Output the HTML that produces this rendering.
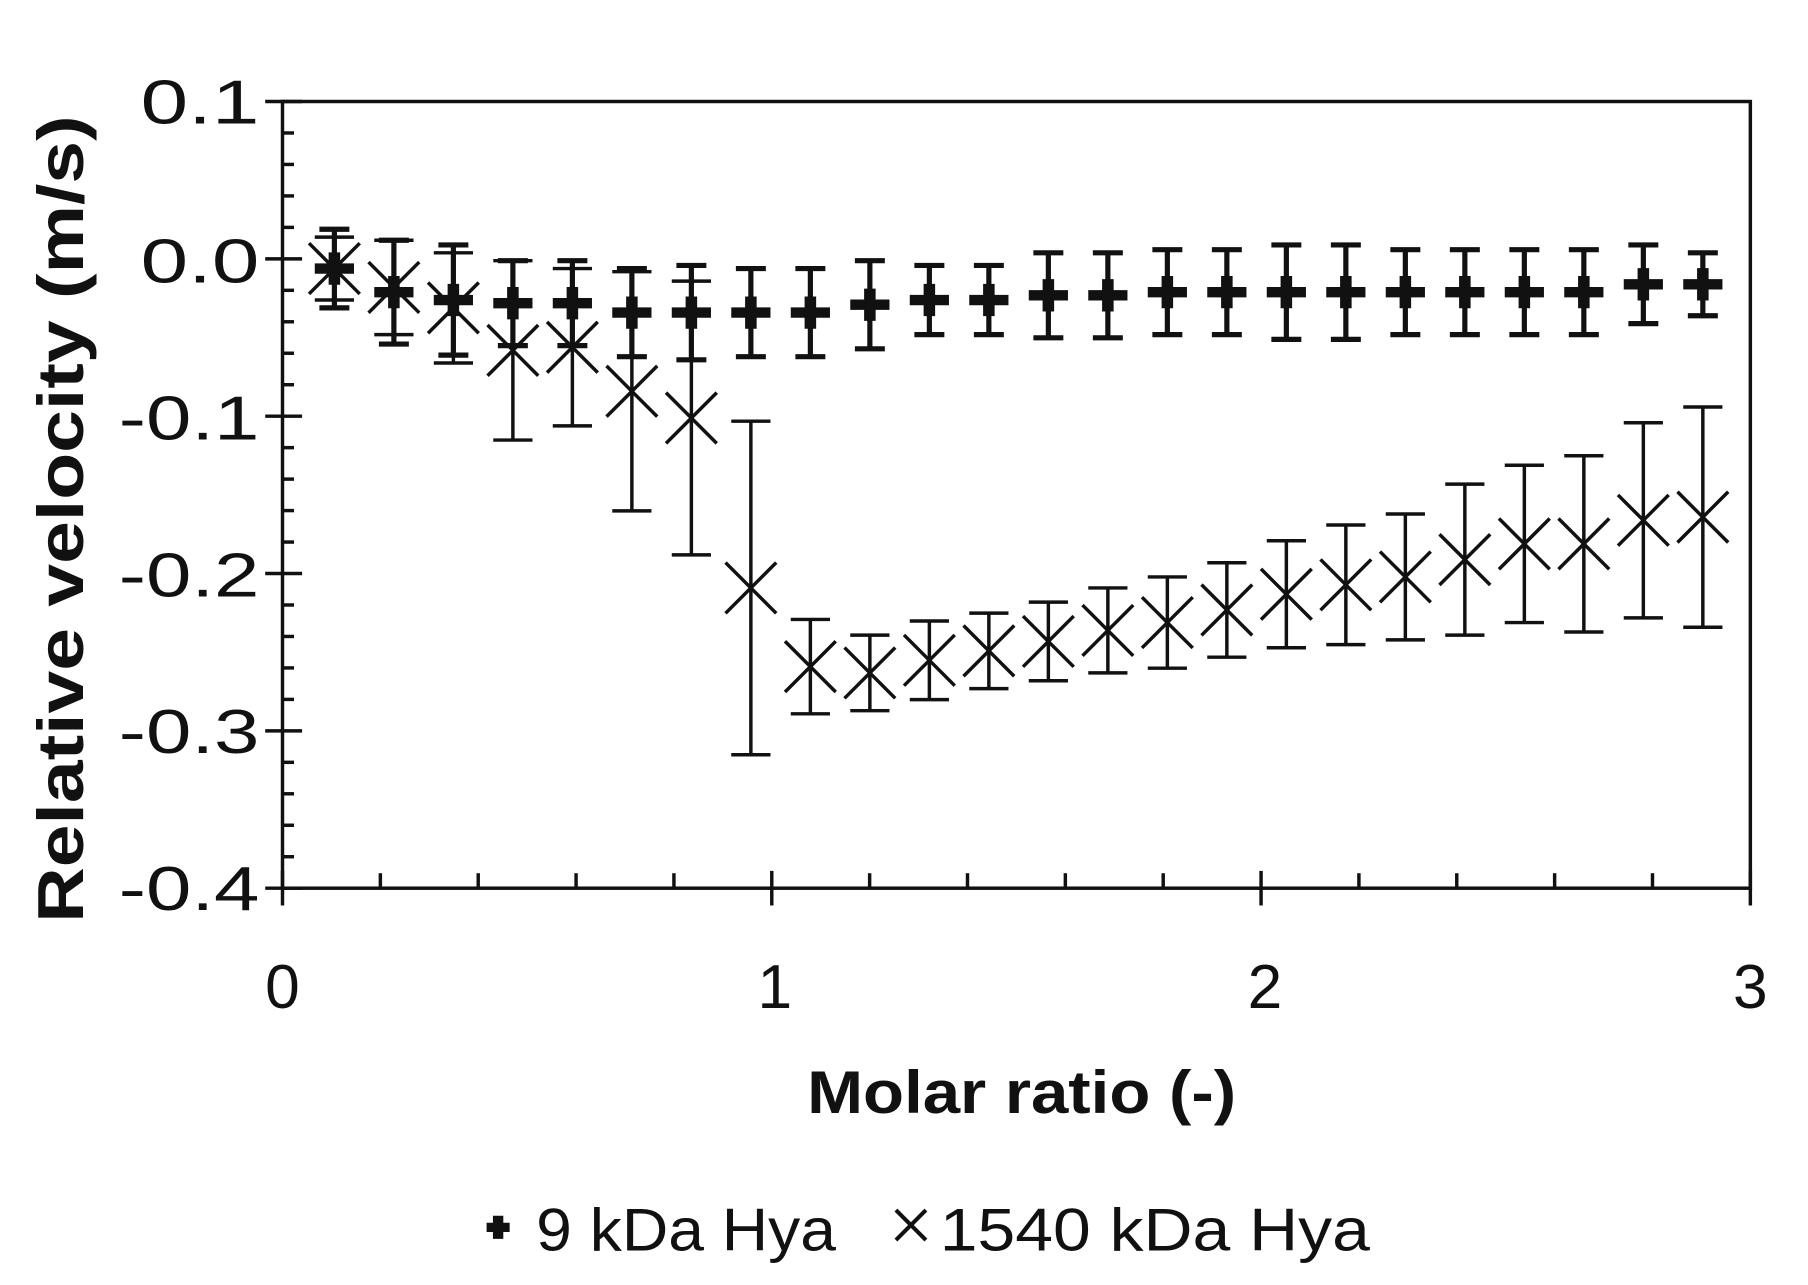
<!DOCTYPE html>
<html><head><meta charset="utf-8">
<style>html,body{margin:0;padding:0;background:#fff;}svg{display:block;}</style>
</head><body>
<svg id="s" width="1808" height="1285" viewBox="0 0 1568 1114" preserveAspectRatio="none" xmlns="http://www.w3.org/2000/svg" font-family="Liberation Sans, Arial, sans-serif">
<rect width="1568" height="1114" fill="#fff"/>
<g stroke="#111" stroke-width="3" fill="none">
<rect x="245" y="88" width="1273" height="682"/>
</g>
<g id="ticks" stroke="#111" stroke-width="3"></g>
<g id="data"></g>
<g fill="#111" font-size="54">
<text x="122" y="107" textLength="103" lengthAdjust="spacingAndGlyphs">0.1</text>
<text x="122" y="245" textLength="103" lengthAdjust="spacingAndGlyphs">0.0</text>
<text x="103" y="381" textLength="122" lengthAdjust="spacingAndGlyphs">-0.1</text>
<text x="103" y="517" textLength="122" lengthAdjust="spacingAndGlyphs">-0.2</text>
<text x="103" y="653" textLength="122" lengthAdjust="spacingAndGlyphs">-0.3</text>
<text x="103" y="789" textLength="122" lengthAdjust="spacingAndGlyphs">-0.4</text>
<text x="245" y="874" text-anchor="middle">0</text>
<text x="672" y="874" text-anchor="middle">1</text>
<text x="1097" y="874" text-anchor="middle">2</text>
<text x="1518" y="874" text-anchor="middle">3</text>
<text x="700" y="965" font-weight="bold" font-size="52" textLength="372" lengthAdjust="spacingAndGlyphs">Molar ratio (-)</text>
<text transform="translate(72,800) rotate(-90)" font-weight="bold" font-size="56" textLength="700" lengthAdjust="spacingAndGlyphs">Relative velocity (m/s)</text>
<text x="465" y="1084" font-size="52" textLength="260" lengthAdjust="spacingAndGlyphs">9 kDa Hya</text>
<text x="815" y="1084" font-size="52" textLength="373" lengthAdjust="spacingAndGlyphs">1540 kDa Hya</text>
</g>
</svg>
<script>
(function(){
var NS="http://www.w3.org/2000/svg";
function el(p,t,a){var e=document.createElementNS(NS,t);for(var k in a)e.setAttribute(k,a[k]);p.appendChild(e);return e;}
function ln(p,x1,y1,x2,y2,w){return el(p,'line',{x1:x1,y1:y1,x2:x2,y2:y2,stroke:'#111','stroke-width':w||3});}
var T=document.getElementById('ticks'),D=document.getElementById('data');
for(var k=0;k<=25;k++){var y=88+k*682/25;if(k%5==0)ln(T,230,y,262,y,3);else ln(T,245,y,255,y,3);}
for(var k=0;k<=15;k++){var x=245+k*1273/15;if(k%5==0)ln(T,x,755,x,785,3);else ln(T,x,757,x,770,3);}
function Y(v){return 226-v*1364;}
var v9=[-0.005,-0.02,-0.025,-0.027,-0.027,-0.033,-0.033,-0.033,-0.033,-0.028,-0.025,-0.025,-0.022,-0.022,-0.02,-0.02,-0.02,-0.02,-0.02,-0.02,-0.02,-0.02,-0.015,-0.015];
var e9=[0.025,0.033,0.035,0.027,0.027,0.028,0.03,0.028,0.028,0.028,0.022,0.022,0.027,0.027,0.027,0.027,0.03,0.03,0.027,0.027,0.027,0.027,0.025,0.02];
var v15=[-0.005,-0.017,-0.03,-0.057,-0.055,-0.083,-0.1,-0.208,-0.258,-0.262,-0.254,-0.248,-0.242,-0.235,-0.23,-0.222,-0.212,-0.206,-0.201,-0.19,-0.18,-0.18,-0.165,-0.163];
var e15=[0.02,0.03,0.035,0.057,0.05,0.076,0.087,0.106,0.03,0.024,0.025,0.024,0.025,0.027,0.029,0.03,0.034,0.038,0.04,0.048,0.05,0.056,0.062,0.07];
for(var i=0;i<24;i++){
 var x=290+51.6*i;
 var y=Y(v15[i]),t=Y(v15[i]+e15[i]),b=Y(v15[i]-e15[i]);
 ln(D,x,t,x,b,3);ln(D,x-17,t,x+17,t,3);ln(D,x-17,b,x+17,b,3);
 ln(D,x-22,y-22,x+22,y+22,3);ln(D,x-22,y+22,x+22,y-22,3);
 y=Y(v9[i]);t=Y(v9[i]+e9[i]);b=Y(v9[i]-e9[i]);
 ln(D,x,t,x,b,4.5);ln(D,x-13,t,x+13,t,4.5);ln(D,x-13,b,x+13,b,4.5);
 ln(D,x-17,y,x+17,y,9);ln(D,x,y-14,x,y+14,10);
}
ln(D,422,1064,442,1064,8);ln(D,432,1054,432,1074,9);
ln(D,777,1049,803,1075,3.5);ln(D,777,1075,803,1049,3.5);
})();
</script>
</body></html>
